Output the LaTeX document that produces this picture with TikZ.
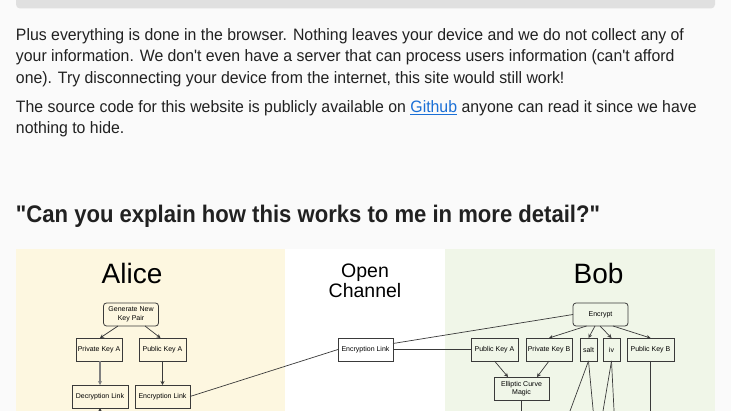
\documentclass[tikz,border=0pt]{standalone}
\usepackage{fontspec}
\setmainfont{Liberation Sans}
\newfontfamily\webfont[FakeStretch=0.96]{Liberation Sans}
\newfontfamily\headfont[FakeStretch=0.92]{Liberation Sans}
\usetikzlibrary{arrows.meta}
\definecolor{pagebg}{HTML}{FAFAFA}
\definecolor{barbg}{HTML}{E0E0E0}
\definecolor{inktext}{HTML}{212121}
\definecolor{linkblue}{HTML}{1A6FD6}
\definecolor{alicebg}{HTML}{FDF7E0}
\definecolor{bobbg}{HTML}{F0F6E8}
\definecolor{boxline}{HTML}{3A3A3A}

\begin{document}
\begin{tikzpicture}[x=1pt,y=-1pt,every node/.style={inner sep=0pt,outer sep=0pt},
  para/.style={anchor=base west,text=inktext,font=\webfont\fontsize{16.5}{20}\selectfont},
  title/.style={anchor=base,font=\fontsize{28}{30}\selectfont},
  keybox/.style={draw=boxline,line width=0.8pt,minimum height=23pt,align=center,font=\fontsize{7}{8.5}\selectfont},
  roundbox/.style={keybox,rounded corners=3pt},
  link/.style={draw=boxline,line width=0.7pt},
  >={Stealth[length=4pt,width=4pt]}]
\useasboundingbox (0,0) rectangle (731,411);
\clip (0,0) rectangle (731,411);
\fill[pagebg] (0,0) rectangle (731,411);
\fill[barbg,rounded corners=4pt] (16,-10) rectangle (715,8.5);
% page text
\node[para] (p1) at (16,40.5) {Plus everything is done in the browser. Nothing leaves your device and we do not collect any of};
\node[para] (p2) at (16,62) {your information. We don't even have a server that can process users information (can't afford};
\node[para] (p3) at (16,83.5) {one). Try disconnecting your device from the internet, this site would still work!};
\node[para] (p4) at (16,113) {The source code for this website is publicly available on \textcolor{linkblue}{\underline{Github}} anyone can read it since we have};
\node[para] (p5) at (16,134) {nothing to hide.};
\node[para,font=\headfont\bfseries\fontsize{24}{28}\selectfont] (head) at (16,223) {"Can you explain how this works to me in more detail?"};
% panels
\fill[alicebg] (16,249) rectangle (285,411);
\fill[white] (285,249) rectangle (445,411);
\fill[bobbg] (445,249) rectangle (715,411);
\node[title] (alice) at (132,284) {Alice};
\node[title] (bob) at (598.5,284) {Bob};
\node[title,font=\fontsize{19.5}{18}\selectfont] (open) at (365,278) {Open};
\node[title,font=\fontsize{19.5}{18}\selectfont] (channel) at (365,297.5) {Channel};
% Alice
\node[roundbox,minimum width=55pt] (gen) at (131,314.5) {Generate New\\Key Pair};
\node[keybox,minimum width=46pt] (privA) at (99,349.5) {Private Key A};
\node[keybox,minimum width=47pt] (pubA) at (162.5,349.5) {Public Key A};
\node[keybox,minimum width=56pt] (decA) at (100,396.5) {Decryption Link};
\node[keybox,minimum width=55pt] (encA) at (162.5,396.5) {Encryption Link};
% open channel
\node[keybox,minimum width=55pt] (encO) at (365.5,349.5) {Encryption Link};
% Bob
\node[roundbox,minimum width=55pt] (encrypt) at (600.5,314.5) {Encrypt};
\node[keybox,minimum width=47pt] (pubAB) at (494.5,349.5) {Public Key A};
\node[keybox,minimum width=46pt] (privB) at (549,349.5) {Private Key B};
\node[keybox,minimum width=17pt] (salt) at (588.5,349.5) {salt};
\node[keybox,minimum width=17pt] (iv) at (611.5,349.5) {iv};
\node[keybox,minimum width=47pt] (pubB) at (650.5,349.5) {Public Key B};
\node[keybox,minimum width=55pt] (ecm) at (521.5,388.5) {Elliptic Curve\\Magic};
% ends below the page
\coordinate (decin) at (100,430); \coordinate (ecmout) at (521.5,430);
\coordinate (salt1) at (563,430); \coordinate (salt2) at (595,430);
\coordinate (iv1) at (599.8,430); \coordinate (iv2) at (615,430);
\coordinate (pubBout) at (650.5,430);
\draw[link,->] ([xshift=-13pt]gen.south) -- ([xshift=1pt]privA.north);
\draw[link,->] ([xshift=14pt]gen.south) -- ([xshift=-2pt]pubA.north);
\draw[->,line width=1.5pt,draw=black!50] ([xshift=1pt]privA.south) -- (decA.north);
\draw[link,->] (pubA) -- (encA);
\draw[link,->] (decin) -- (decA.south);
\draw[link] (encA.east) -- (encO.west);
\draw[link] ([yshift=6pt]encO.east) -- (encrypt.west);
\draw[link] (encO.east) -- (pubAB.west);
\draw[link,->] ([xshift=-14pt]encrypt.south) -- (privB.north);
\draw[link,->] ([xshift=-5.5pt]encrypt.south) -- (salt.north);
\draw[link,->] ([xshift=-0.5pt]encrypt.south) -- (iv.north);
\draw[link,->] ([xshift=12.5pt]encrypt.south) -- (pubB.north);
\draw[link,->] (pubAB.south) -- ([xshift=-13.5pt]ecm.north);
\draw[link,->] (privB.south) -- ([xshift=15.5pt]ecm.north);
\draw[link,->] (ecm.south) -- (ecmout);
\draw[link,->] (salt.south) -- (salt1); \draw[link,->] (salt.south) -- (salt2);
\draw[link,->] (iv.south) -- (iv1); \draw[link,->] (iv.south) -- (iv2);
\draw[link,->] (pubB.south) -- (pubBout);
\end{tikzpicture}
\end{document}
